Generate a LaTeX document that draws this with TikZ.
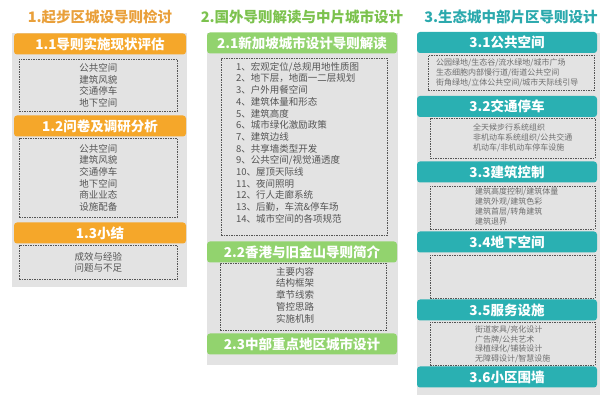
\documentclass[tikz,border=0pt]{standalone}
\usepackage{fontspec}
\setmainfont{Noto Sans CJK SC}
\definecolor{orgbar}{HTML}{F5A72A}
\definecolor{orgtitle}{HTML}{E9A03B}
\definecolor{grnbar}{HTML}{92D36E}
\definecolor{grntitle}{HTML}{7CC24E}
\definecolor{tealbar}{HTML}{2AB0B2}
\definecolor{tealtitle}{HTML}{2BA9AD}
\definecolor{panelgray}{HTML}{E3E3E3}
\definecolor{txtgray}{HTML}{555555}
\begin{document}
\begin{tikzpicture}
    [x=1pt,y=-1pt,
    title/.style={font=\bfseries\fontsize{14.5}{16}\selectfont, inner sep=0pt},
    bar/.style={rounded corners=3pt, minimum height=21pt, inner sep=0pt,
      text=white, font=\bfseries\fontsize{13.5}{15}\selectfont},
    dashbox/.style={draw=txtgray, dash pattern=on 1.5pt off 1pt, line width=0.6pt,
      inner sep=0pt, anchor=north west},
    body/.style={text=txtgray, inner sep=0pt, font=\fontsize{9.5}{11.7}\selectfont},
    small/.style={text=txtgray!85, inner sep=0pt, anchor=north west, align=left,
      font=\fontsize{8}{10}\selectfont}]
    \useasboundingbox (0,0) rectangle (600,395);
    % panels
    \fill[panelgray] (12,33) rectangle (187,287);
    \fill[panelgray] (207,33) rectangle (398,365);
    \fill[panelgray] (417,33) rectangle (600,395);

    % column 1
    \node[title, text=orgtitle] (t1) at (100,17) {1.起步区城设导则检讨};
    \node[bar, fill=orgbar, minimum width=172pt] (h11) at (100,44) {1.1导则实施现状评估};
    \node[dashbox, minimum width=158pt, minimum height=52pt] (d11) at (19,59) {};
    \node[body, align=center] (b11) at (d11.center) {公共空间\\建筑风貌\\交通停车\\地下空间};
    \node[bar, fill=orgbar, minimum width=172pt] (h12) at (100,126) {1.2问卷及调研分析};
    \node[dashbox, minimum width=158pt, minimum height=79pt] (d12) at (19,138) {};
    \node[body, align=center] (b12) at (d12.center) {公共空间\\建筑风貌\\交通停车\\地下空间\\商业业态\\设施配备};
    \node[bar, fill=orgbar, minimum width=172pt] (h13) at (100,233) {1.3小结};
    \node[dashbox, minimum width=158pt, minimum height=34pt] (d13) at (19,245) {};
    \node[body, align=center] (b13) at (d13.center) {成效与经验\\问题与不足};

    % column 2
    \node[title, text=grntitle] (t2) at (302,17) {2.国外导则解读与中片城市设计};
    \node[bar, fill=grnbar, minimum width=190pt] (h21) at (302,43) {2.1新加坡城市设计导则解读};
    \node[dashbox, minimum width=166pt, minimum height=177pt] (d21) at (221,58) {};
    \node[body, anchor=north west, align=left] (b21) at (236,62) {1、宏观定位/总规用地性质图\\
      2、地下层，地面一二层规划\\3、户外用餐空间\\4、建筑体量和形态\\5、建筑高度\\
      6、城市绿化激励政策\\7、建筑边线\\8、共享墙类型开发\\9、公共空间/视觉通透度\\
      10、屋顶天际线\\11、夜间照明\\12、行人走廊系统\\13、后勤，车流\&停车场\\
      14、城市空间的各项规范};
    \node[bar, fill=grnbar, minimum width=190pt] (h22) at (302,252) {2.2香港与旧金山导则简介};
    \node[dashbox, minimum width=166pt, minimum height=67pt] (d22) at (220,263) {};
    \node[body, anchor=north west, align=left] (b22) at (276,267) {主要内容\\结构框架\\章节线索\\管控思路\\实施机制};
    \node[bar, fill=grnbar, minimum width=190pt] (h23) at (302,344) {2.3中部重点地区城市设计};

    % column 3
    \node[title, text=tealtitle] (t3) at (511,17) {3.生态城中部片区导则设计};
    \node[bar, fill=tealbar, minimum width=180pt] (h31) at (507,42.5) {3.1公共空间};
    \node[dashbox, minimum width=166pt, minimum height=35pt] (d31) at (428,55) {};
    \node[small] (b31) at (436,59) {公园绿地/生态谷/流水绿地/城市广场\\生态细胞内部慢行道/街道公共空间\\街角绿地/立体公共空间/城市天际线引导};
    \node[bar, fill=tealbar, minimum width=180pt] (h32) at (507,106.5) {3.2交通停车};
    \node[dashbox, minimum width=165pt, minimum height=40pt] (d32) at (430,118) {};
    \node[small] (b32) at (473,123) {全天候步行系统组织\\非机动车系统组织/公共交通\\机动车/非机动车停车设施};
    \node[bar, fill=tealbar, minimum width=180pt] (h33) at (507,172) {3.3建筑控制};
    \node[dashbox, minimum width=165pt, minimum height=43pt] (d33) at (430,186) {};
    \node[small] (b33) at (475,188) {建筑高度控制/建筑体量\\建筑外观/建筑色彩\\建筑首层/转角建筑\\建筑退界};
    \node[bar, fill=tealbar, minimum width=180pt] (h34) at (507,242) {3.4地下空间};
    \node[dashbox, minimum width=165pt, minimum height=43pt] (d34) at (430,255) {};
    \node[bar, fill=tealbar, minimum width=180pt] (h35) at (507,310) {3.5服务设施};
    \node[dashbox, minimum width=165pt, minimum height=43pt] (d35) at (430,322) {};
    \node[small, font=\fontsize{8}{9.5}\selectfont] (b35) at (475,326) {街道家具/亮化设计\\广告牌/公共艺术\\绿植绿化/铺装设计\\无障碍设计/智慧设施};
    \node[bar, fill=tealbar, minimum width=180pt] (h36) at (507,377) {3.6小区围墙};
\end{tikzpicture}
\end{document}
